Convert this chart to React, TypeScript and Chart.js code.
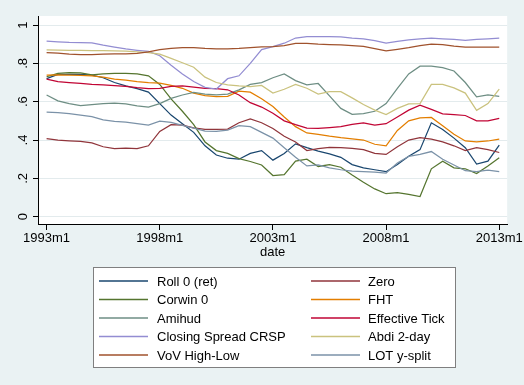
import React, { useEffect, useRef } from "react";
import { Chart, registerables } from "chart.js";

Chart.register(...registerables);

// Half-year observation dates, 1993m1 .. 2013m1
const dates = [
  1993, 1993.5, 1994, 1994.5, 1995, 1995.5, 1996, 1996.5, 1997, 1997.5,
  1998, 1998.5, 1999, 1999.5, 2000, 2000.5, 2001, 2001.5, 2002, 2002.5,
  2003, 2003.5, 2004, 2004.5, 2005, 2005.5, 2006, 2006.5, 2007, 2007.5,
  2008, 2008.5, 2009, 2009.5, 2010, 2010.5, 2011, 2011.5, 2012, 2012.5, 2013,
];

const roll0Ret = [
  0.72, 0.742, 0.742, 0.742, 0.738, 0.725, 0.7, 0.682, 0.668, 0.65,
  0.59, 0.53, 0.485, 0.44, 0.37, 0.322, 0.305, 0.3, 0.33, 0.345,
  0.295, 0.33, 0.38, 0.36, 0.342, 0.328, 0.31, 0.272, 0.255, 0.245,
  0.235, 0.272, 0.315, 0.35, 0.49, 0.455, 0.41, 0.36, 0.275, 0.29, 0.374,
];
const zero = [
  0.407, 0.4, 0.396, 0.393, 0.385, 0.365, 0.355, 0.358, 0.355, 0.37,
  0.445, 0.48, 0.478, 0.463, 0.455, 0.456, 0.457, 0.49, 0.51, 0.49,
  0.46, 0.42, 0.39, 0.345, 0.355, 0.362, 0.36, 0.357, 0.35, 0.33,
  0.325, 0.365, 0.4, 0.412, 0.405, 0.39, 0.37, 0.345, 0.36, 0.35, 0.335,
];
const corwin0 = [
  0.73, 0.748, 0.752, 0.75, 0.74, 0.745, 0.748, 0.748, 0.745, 0.735,
  0.69, 0.615, 0.55, 0.48, 0.39, 0.345, 0.33, 0.303, 0.288, 0.27,
  0.215, 0.22, 0.29, 0.3, 0.262, 0.272, 0.258, 0.218, 0.18, 0.145,
  0.12, 0.126, 0.116, 0.105, 0.25, 0.29, 0.255, 0.25, 0.225, 0.265, 0.308,
];
const fht = [
  0.739, 0.74, 0.739, 0.737, 0.735, 0.728, 0.718, 0.712, 0.705, 0.7,
  0.697, 0.685, 0.67, 0.645, 0.632, 0.626, 0.628, 0.655, 0.65, 0.615,
  0.575, 0.52, 0.47, 0.437, 0.43, 0.42, 0.412, 0.406, 0.4, 0.378,
  0.37, 0.45, 0.5, 0.515, 0.518, 0.475, 0.43, 0.395, 0.39, 0.395, 0.405,
];
const amihud = [
  0.635, 0.604, 0.59, 0.58, 0.585, 0.59, 0.592, 0.588, 0.578, 0.572,
  0.59, 0.617, 0.635, 0.648, 0.64, 0.636, 0.64, 0.662, 0.69, 0.7,
  0.725, 0.745, 0.71, 0.688, 0.695, 0.63, 0.565, 0.534, 0.538, 0.55,
  0.59, 0.67, 0.745, 0.785, 0.785, 0.778, 0.76, 0.7, 0.625, 0.635, 0.628,
];
const effectiveTick = [
  0.718, 0.705, 0.7, 0.695, 0.69, 0.688, 0.684, 0.68, 0.673, 0.668,
  0.67, 0.68, 0.682, 0.676, 0.67, 0.668, 0.662, 0.635, 0.595, 0.572,
  0.54, 0.5, 0.48, 0.462, 0.461, 0.465, 0.47, 0.482, 0.49, 0.478,
  0.485, 0.52, 0.556, 0.582, 0.56, 0.537, 0.532, 0.528, 0.5, 0.5, 0.513,
];
const closingSpreadCrsp = [
  0.916, 0.912, 0.909, 0.908, 0.907, 0.895, 0.885, 0.875, 0.868, 0.862,
  0.84, 0.79, 0.745, 0.705, 0.675, 0.666, 0.72, 0.735, 0.8, 0.872,
  0.887, 0.905, 0.932, 0.94, 0.94, 0.94, 0.938, 0.932, 0.928, 0.918,
  0.905, 0.915, 0.922, 0.928, 0.932, 0.928, 0.925, 0.92, 0.925, 0.928, 0.932,
];
const abdi2Day = [
  0.87, 0.869, 0.868, 0.868, 0.867, 0.866, 0.865, 0.864, 0.86, 0.856,
  0.848, 0.826, 0.803, 0.78, 0.728, 0.7, 0.688, 0.682, 0.678, 0.685,
  0.645, 0.665, 0.69, 0.67, 0.64, 0.652, 0.652, 0.62, 0.585, 0.556,
  0.533, 0.565, 0.588, 0.59, 0.69, 0.69, 0.672, 0.645, 0.555, 0.59, 0.665,
];
const vovHighLow = [
  0.856, 0.853, 0.848, 0.845, 0.846, 0.848, 0.849, 0.849, 0.852, 0.86,
  0.872, 0.878, 0.882, 0.882, 0.878, 0.876, 0.876, 0.878, 0.882, 0.886,
  0.887, 0.892, 0.904, 0.904, 0.9, 0.898, 0.897, 0.892, 0.888, 0.877,
  0.865, 0.873, 0.882, 0.893, 0.9, 0.898, 0.89, 0.885, 0.884, 0.884, 0.884,
];
const lotYSplit = [
  0.545, 0.543, 0.538, 0.53, 0.522, 0.505, 0.497, 0.493, 0.485, 0.478,
  0.498, 0.492, 0.477, 0.462, 0.447, 0.445, 0.452, 0.475, 0.47, 0.44,
  0.41, 0.36, 0.31, 0.265, 0.27, 0.255, 0.245, 0.238, 0.235, 0.232,
  0.228, 0.28, 0.315, 0.325, 0.34, 0.3, 0.27, 0.24, 0.235, 0.243, 0.235,
];

const seriesLabels = [
  "Roll 0 (ret)", "Zero", "Corwin 0", "FHT", "Amihud",
  "Effective Tick", "Closing Spread CRSP", "Abdi 2-day", "VoV High-Low", "LOT y-split",
];
const seriesValues = [
  roll0Ret, zero, corwin0, fht, amihud,
  effectiveTick, closingSpreadCrsp, abdi2Day, vovHighLow, lotYSplit,
];
const seriesColors = [
  "#1a476f", "#90353b", "#55752f", "#e37e00", "#6e8e84",
  "#c10534", "#938dd2", "#cac27e", "#a0522d", "#7b92a8",
];

const xTicks = [1993, 1998, 2003, 2008, 2013];
const yTicks = [0, 0.2, 0.4, 0.6, 0.8, 1];
const yTickLabels = ["0", ".2", ".4", ".6", ".8", "1"];

const FONT_FAMILY = "'Liberation Sans', Arial, sans-serif";
const TEXT_COLOR = "#000000";
const OUTER_BG = "#eaf2f3";
const GRID_COLOR = "#e3ebed";

// Paints the outer region and the white plot region behind the lines.
const backgroundPlugin = {
  id: "regions",
  beforeDraw(chart: any) {
    const { ctx, chartArea } = chart;
    ctx.save();
    ctx.fillStyle = OUTER_BG;
    ctx.fillRect(0, 0, chart.width, chart.height);
    ctx.fillStyle = "#ffffff";
    ctx.fillRect(chartArea.left, chartArea.top, chartArea.right - chartArea.left, chartArea.bottom - chartArea.top);
    ctx.restore();
  },
};

// Two-column boxed legend under the plot.
const boxedLegendPlugin = {
  id: "boxedLegend",
  afterDraw(chart: any) {
    const { ctx } = chart;
    const boxX = 93.5, boxY = 267.5, boxW = 362, boxH = 100;
    ctx.save();
    ctx.fillStyle = "#ffffff";
    ctx.fillRect(boxX, boxY, boxW, boxH);
    ctx.strokeStyle = "#7f7f7f";
    ctx.lineWidth = 1;
    ctx.strokeRect(boxX, boxY, boxW, boxH);
    ctx.font = `13px ${FONT_FAMILY}`;
    ctx.textBaseline = "middle";
    ctx.textAlign = "left";
    chart.data.datasets.forEach((ds: any, i: number) => {
      const col = i % 2;
      const row = Math.floor(i / 2);
      const y = 281 + row * 18.5;
      const lx = col === 0 ? 99 : 311;
      const tx = col === 0 ? 157 : 368;
      ctx.strokeStyle = ds.borderColor;
      ctx.lineWidth = 1.3;
      ctx.beginPath();
      ctx.moveTo(lx, y);
      ctx.lineTo(lx + 49, y);
      ctx.stroke();
      ctx.fillStyle = TEXT_COLOR;
      ctx.fillText(ds.label, tx, y + 1);
    });
    ctx.restore();
  },
};

export default function App() {
  const canvasRef = useRef<HTMLCanvasElement | null>(null);

  useEffect(() => {
    if (!canvasRef.current) return;
    const font = { family: FONT_FAMILY, size: 13 };
    const chart = new Chart(canvasRef.current, {
      type: "line",
      data: {
        datasets: seriesLabels.map((label, i) => ({
          label,
          data: dates.map((d, j) => ({ x: d, y: seriesValues[i][j] })),
          borderColor: seriesColors[i],
          backgroundColor: seriesColors[i],
          borderWidth: 1.25,
          pointRadius: 0,
          tension: 0,
          fill: false,
          order: seriesLabels.length - i,
        })),
      },
      options: {
        responsive: false,
        animation: false,
        devicePixelRatio: 1,
        layout: { padding: { left: 0, top: 16, right: 16, bottom: 121 } },
        plugins: {
          legend: { display: false },
          tooltip: { enabled: false },
        },
        scales: {
          x: {
            type: "linear",
            min: 1992.62,
            max: 2013.35,
            afterBuildTicks: (scale: any) => {
              scale.ticks = xTicks.map((v) => ({ value: v }));
            },
            afterFit: (scale: any) => {
              scale.height = 40;
            },
            ticks: {
              autoSkip: false,
              maxRotation: 0,
              minRotation: 0,
              padding: 1,
              font,
              color: TEXT_COLOR,
              callback: (v: any) => `${v}m1`,
            },
            grid: { drawOnChartArea: false, tickLength: 6, color: "#000000", lineWidth: 1 },
            border: { display: true, color: "#000000", width: 1 },
            title: {
              display: true,
              text: "date",
              font,
              color: TEXT_COLOR,
              padding: { top: 0, bottom: 4 },
            },
          },
          y: {
            type: "linear",
            min: -0.038,
            max: 1.047,
            afterBuildTicks: (scale: any) => {
              scale.ticks = yTicks.map((v) => ({ value: v }));
            },
            afterFit: (scale: any) => {
              scale.width = 38;
            },
            ticks: {
              autoSkip: false,
              minRotation: 90,
              maxRotation: 90,
              crossAlign: "center",
              padding: 4,
              font,
              color: TEXT_COLOR,
              callback: (v: any) => {
                const idx = yTicks.findIndex((t) => Math.abs(t - v) < 1e-9);
                return idx >= 0 ? yTickLabels[idx] : "";
              },
            },
            grid: { color: GRID_COLOR, tickColor: "#000000", tickLength: 5, lineWidth: 1 },
            border: { display: true, color: "#000000", width: 1 },
          },
        },
      } as any,
      plugins: [backgroundPlugin, boxedLegendPlugin],
    });
    return () => chart.destroy();
  }, []);

  return (
    <div style={{ position: "absolute", left: 0, top: 0, width: 524, height: 385, background: OUTER_BG }}>
      <canvas ref={canvasRef} width={524} height={385} style={{ display: "block", width: 524, height: 385 }} />
    </div>
  );
}
